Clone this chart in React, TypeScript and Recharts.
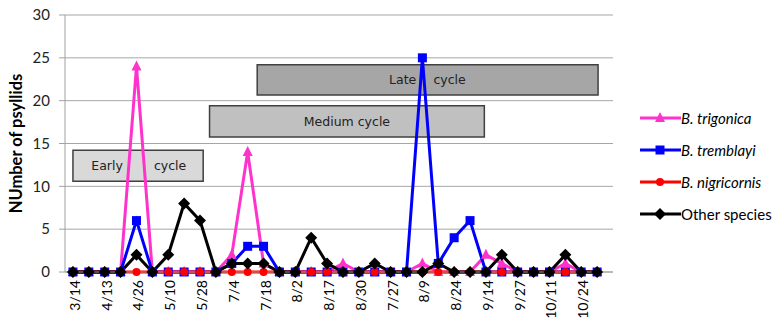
import React from 'react';
import { LineChart, Line, XAxis, YAxis, CartesianGrid, ReferenceArea } from 'recharts';

const tickLabels = ['3/14', '4/13', '4/26', '5/10', '5/28', '7/4', '7/18', '8/2', '8/17', '8/30', '7/27', '8/9', '8/24', '9/14', '9/27', '10/11', '10/24'];
const trigonica = [0, 0, 0, 0, 24, 0, 0, 0, 0, 0, 2, 14, 1, 0, 0, 0, 0, 1, 0, 0, 0, 0, 1, 0, 0, 0, 2, 1, 0, 0, 0, 1, 0, 0];
const tremblayi = [0, 0, 0, 0, 6, 0, 0, 0, 0, 0, 1, 3, 3, 0, 0, 0, 0, 0, 0, 0, 0, 0, 25, 1, 4, 6, 0, 0, 0, 0, 0, 0, 0, 0];
const nigricornis = [0, 0, 0, 0, 0, 0, 0, 0, 0, 0, 0, 0, 0, 0, 0, 0, 0, 0, 0, 0, 0, 0, 0, 0, 0, 0, 0, 0, 0, 0, 0, 0, 0, 0];
const other = [0, 0, 0, 0, 2, 0, 2, 8, 6, 0, 1, 1, 1, 0, 0, 4, 1, 0, 0, 1, 0, 0, 0, 1, 0, 0, 0, 2, 0, 0, 0, 2, 0, 0];
const yTicks = [0, 5, 10, 15, 20, 25, 30];

const cycles = [
  { name: 'Early', x1: 0.0, x2: 8.2, y1: 10.6, y2: 14.2, fill: '#d9d9d9', parts: [['Early', -31], ['cycle', 32]] },
  { name: 'Medium', x1: 8.6, x2: 25.9, y1: 15.75, y2: 19.4, fill: '#c0c0c0', parts: [['Medium cycle', 0]] },
  { name: 'Late', x1: 11.6, x2: 33.06, y1: 20.65, y2: 24.2, fill: '#a6a6a6', parts: [['Late', -25], ['cycle', 22]] },
];

const data = trigonica.map((v, i) => ({
  i,
  trigonica: v,
  tremblayi: tremblayi[i],
  nigricornis: nigricornis[i],
  other: other[i],
}));
const xTicks = data.map((d) => d.i);

const PINK = '#ff33cc';
const BLUE = '#0000ff';
const RED = '#ff0000';
const BLACK = '#000000';

const triangle = (color: string) => (p: any) => {
  const { cx, cy, index } = p;
  if (cx == null || cy == null) return <g key={`t${index}`} />;
  return <path key={`t${index}`} d={`M${cx},${cy - 6} L${cx + 5},${cy + 4} L${cx - 5},${cy + 4} Z`} fill={color} />;
};
const square = (color: string) => (p: any) => {
  const { cx, cy, index } = p;
  if (cx == null || cy == null) return <g key={`s${index}`} />;
  return <rect key={`s${index}`} x={cx - 4.5} y={cy - 4.5} width={9} height={9} fill={color} />;
};
const circle = (color: string) => (p: any) => {
  const { cx, cy, index } = p;
  if (cx == null || cy == null) return <g key={`c${index}`} />;
  return <circle key={`c${index}`} cx={cx} cy={cy} r={4} fill={color} />;
};
const diamond = (color: string) => (p: any) => {
  const { cx, cy, index } = p;
  if (cx == null || cy == null) return <g key={`d${index}`} />;
  return <path key={`d${index}`} d={`M${cx},${cy - 6} L${cx + 6},${cy} L${cx},${cy + 6} L${cx - 6},${cy} Z`} fill={color} />;
};

const XTick = (props: any) => {
  const { x, y, payload } = props;
  const v = payload.value;
  if (v % 2 !== 0) return <g />;
  const label = tickLabels[v / 2];
  return (
    <text
      x={0}
      y={0}
      transform={`translate(${x + 7},${y + 2}) rotate(-90)`}
      textAnchor="end"
      fontFamily="Lato, 'Liberation Sans', sans-serif"
      fontSize={14}
      fill="#000"
    >
      {label}
    </text>
  );
};

const boxLabel = (parts: any[]) => (props: any) => {
  const vb = props.viewBox || {};
  const cx = vb.x + vb.width / 2;
  const cy = vb.y + vb.height / 2;
  return (
    <g>
      {parts.map(([t, off]: any) => (
        <text
          key={t}
          x={cx + off}
          y={cy}
          textAnchor="middle"
          dominantBaseline="central"
          fontFamily="'DejaVu Sans', sans-serif"
          fontSize={12.5}
          fill="#222"
        >
          {t}
        </text>
      ))}
    </g>
  );
};

const legendItems = [
  { label: 'B. trigonica', color: PINK, shape: 'tri', italic: true },
  { label: 'B. tremblayi', color: BLUE, shape: 'sq', italic: true },
  { label: 'B. nigricornis', color: RED, shape: 'circ', italic: true },
  { label: 'Other species', color: BLACK, shape: 'dia', italic: false },
];

const LegendBox = () => (
  <div style={{ position: 'absolute', left: 640, top: 102, width: 143, fontFamily: "Lato, 'Liberation Sans', sans-serif", fontSize: 15 }}>
    {legendItems.map((it) => (
      <div key={it.label} style={{ display: 'flex', alignItems: 'center', height: 32 }}>
        <svg width={41} height={14} style={{ marginRight: 0 }}>
          <line x1={0} y1={7} x2={41} y2={7} stroke={it.color} strokeWidth={3} />
          {it.shape === 'tri' && <path d="M20,1 L25,11 L15,11 Z" fill={it.color} />}
          {it.shape === 'sq' && <rect x={15.5} y={2.5} width={9} height={9} fill={it.color} />}
          {it.shape === 'circ' && <circle cx={20} cy={7} r={4} fill={it.color} />}
          {it.shape === 'dia' && <path d="M20,1 L26,7 L20,13 L14,7 Z" fill={it.color} />}
        </svg>
        <span style={{ fontStyle: it.italic ? 'italic' : 'normal', color: '#000' }}>{it.label}</span>
      </div>
    ))}
  </div>
);

export default function App() {
  return (
    <div style={{ position: 'absolute', left: 0, top: 0, width: 783, height: 330, background: '#fff' }}>
      <LineChart width={783} height={330} data={data} margin={{ top: 15, right: 170, bottom: 0, left: 0 }}>
        <CartesianGrid horizontal vertical={false} stroke="#a6a6a6" strokeWidth={1} />
        <XAxis
          dataKey="i"
          type="number"
          domain={[-0.5, 33.5]}
          ticks={xTicks}
          interval={0}
          height={58}
          tick={<XTick />}
          tickLine={{ stroke: '#a0a0a0' }}
          tickSize={4}
          axisLine={{ stroke: '#a0a0a0' }}
          allowDecimals={false}
        />
        <YAxis
          domain={[0, 30]}
          ticks={yTicks}
          interval={0}
          width={65}
          tickSize={6}
          tickMargin={9}
          tick={{ fontFamily: "Lato, 'Liberation Sans', sans-serif", fontSize: 15, fill: '#222' }}
          tickLine={{ stroke: '#a0a0a0' }}
          axisLine={{ stroke: '#a0a0a0' }}
          label={{
            value: 'NUmber of psyllids',
            angle: -90,
            position: 'insideLeft',
            offset: 16,
            style: { fontFamily: "Lato, 'Liberation Sans', sans-serif", fontSize: 16.5, fontWeight: 'bold', fill: '#000', textAnchor: 'middle' },
          }}
        />
        {cycles.map((c) => (
          <ReferenceArea
            key={c.name}
            x1={c.x1}
            x2={c.x2}
            y1={c.y1}
            y2={c.y2}
            fill={c.fill}
            fillOpacity={1}
            stroke="#404040"
            strokeWidth={1.5}
            label={boxLabel(c.parts)}
          />
        ))}
        <Line dataKey="trigonica" name="B. trigonica" stroke={PINK} strokeWidth={3} dot={triangle(PINK)} isAnimationActive={false} />
        <Line dataKey="tremblayi" name="B. tremblayi" stroke={BLUE} strokeWidth={3} dot={square(BLUE)} isAnimationActive={false} />
        <Line dataKey="nigricornis" name="B. nigricornis" stroke={RED} strokeWidth={3} dot={circle(RED)} isAnimationActive={false} />
        <Line dataKey="other" name="Other species" stroke={BLACK} strokeWidth={3} dot={diamond(BLACK)} isAnimationActive={false} />
      </LineChart>
      <LegendBox />
    </div>
  );
}
